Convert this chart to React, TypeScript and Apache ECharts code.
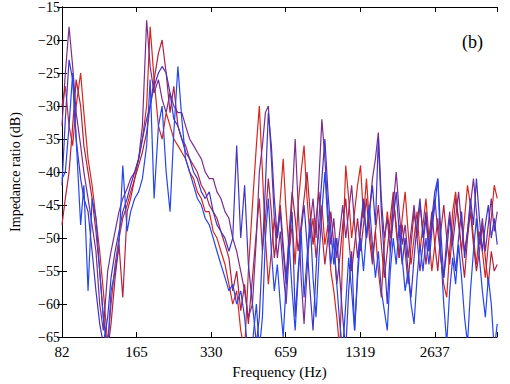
import React, { useEffect, useRef } from "react";
import * as echarts from "echarts";

// Frequency grid (Hz)
const FREQ_HZ: number[] = [
  82.4, 85, 88, 91, 94, 98, 101, 105, 109, 113, 117, 121, 126, 130, 135, 140, 145, 151, 156, 162,
  168, 174, 181, 187, 194, 202, 209, 217, 225, 233, 242, 251, 260, 270, 280, 290, 301, 312, 324, 336,
  348, 361, 375, 389, 403, 418, 434, 450, 466, 484, 502,
  516, 531, 546, 561, 577, 593, 610, 627, 644, 662, 681, 700, 720, 740, 761, 782, 804, 827, 850, 874,
  898, 923, 949, 976, 1003, 1031, 1060, 1090, 1120, 1152, 1184, 1217, 1251, 1286, 1322, 1359, 1397, 1436, 1477, 1518,
  1560, 1604, 1649, 1695, 1743, 1792, 1842, 1893, 1946, 2001, 2057, 2114, 2174, 2235, 2297, 2362, 2428, 2496, 2565, 2637,
  2711, 2787, 2865, 2945, 3028, 3112, 3199, 3289, 3381, 3476, 3573, 3673, 3776, 3882, 3991, 4102, 4217, 4335, 4457, 4581,
  4710,
];

const TICK_LABELS = ["82", "165", "330", "659", "1319", "2637"];
const Y_MIN = -65;
const Y_MAX = -15;

const RED: number[] = [
  -30, -27, -33, -36, -30, -25, -31, -38, -42, -47, -52, -58, -66, -60, -54, -50, -47, -45, -43, -41,
  -38, -35, -30, -18, -26, -33, -35, -31, -33, -35, -36, -37, -38, -40, -41, -43, -44, -46, -46, -49,
  -50, -52, -54, -57, -60, -58, -64, -67, -55, -45, -36,
  -30, -40, -50, -57, -52, -47, -50, -44, -38, -46, -52, -48, -54, -45, -40, -36, -44, -50, -47, -53,
  -49, -45, -51, -48, -55, -58, -62, -67, -52, -39, -44, -50, -46, -42, -39, -47, -41, -48, -53, -49,
  -55, -59, -51, -46, -50, -44, -48, -53, -47, -43, -49, -54, -50, -46, -52, -48, -44, -50, -55, -51,
  -47, -53, -57, -59, -52, -46, -43, -48, -52, -47, -42, -45, -50, -54, -49, -52, -56, -51, -47, -42,
  -44,
];

const CRIMSON: number[] = [
  -48, -44, -40, -33, -26, -30, -36, -40, -44, -49, -55, -62, -67, -63, -56, -51, -59, -46, -44, -41,
  -39, -37, -34, -30, -26, -22, -20, -25, -31, -27, -33, -35, -36, -38, -39, -40, -42, -43, -45, -46,
  -47, -49, -51, -53, -58, -55, -61, -57, -63, -56, -49,
  -44, -52, -47, -41, -46, -53, -49, -45, -51, -56, -49, -43, -47, -52, -48, -44, -40, -46, -51, -47,
  -43, -49, -54, -50, -46, -51, -57, -53, -48, -44, -50, -55, -51, -47, -52, -48, -44, -50, -54, -49,
  -45, -51, -56, -52, -47, -43, -49, -53, -48, -52, -57, -51, -46, -50, -45, -49, -54, -50, -46, -51,
  -55, -49, -45, -50, -54, -49, -44, -47, -52, -56, -50, -46, -51, -55, -52, -48, -53, -57, -52, -55,
  -54,
];

const PURPLE: number[] = [
  -33, -25, -18, -24, -31, -36, -40, -44, -48, -52, -60, -64, -55, -52, -49, -46, -44, -42.5, -41, -40,
  -38, -33, -17, -24, -28, -26, -29, -31, -28, -30, -31, -31, -33, -35, -36, -37, -38, -40, -41, -41,
  -43, -44, -46, -47, -50, -52, -55, -58, -62, -60, -50,
  -40, -36, -31, -30, -38, -47, -53, -49, -55, -60, -52, -44, -35, -45, -56, -63, -55, -48, -44, -50,
  -41, -32, -38, -46, -51, -47, -53, -49, -45, -50, -46, -42, -48, -53, -49, -45, -50, -46, -41, -38,
  -34, -44, -50, -47, -52, -45, -40, -46, -51, -48, -53, -49, -45, -50, -55, -51, -47, -52, -48, -44,
  -49, -53, -56, -50, -46, -51, -47, -43, -48, -52, -49, -45, -41, -46, -51, -47, -52, -48, -44, -49,
  -46,
];

const VIOLET: number[] = [
  -42, -32, -23, -26, -35, -41, -44, -46, -52, -58, -63, -66, -62, -56, -52, -49, -46, -44, -42, -40,
  -38, -35, -32, -30, -27, -25, -24, -25, -28, -32, -33, -35, -37, -38, -40, -41, -43, -44, -43, -46,
  -48, -49, -50, -52, -50, -36, -50, -42, -54, -60, -66,
  -62, -52, -42, -31, -36, -44, -50, -46, -52, -57, -50, -46, -62, -55, -49, -45, -51, -58, -64, -55,
  -47, -41, -35, -43, -49, -54, -50, -56, -62, -67, -58, -52, -64, -55, -48, -44, -50, -46, -42, -48,
  -35, -46, -53, -60, -52, -47, -43, -49, -54, -50, -55, -59, -53, -48, -44, -50, -46, -52, -47, -43,
  -41, -49, -56, -52, -47, -51, -55, -50, -46, -53, -49, -44, -48, -41, -47, -52, -48, -45, -50, -47,
  -51,
];

const BLUE: number[] = [
  -41, -40, -33, -25, -35, -48, -42, -58, -44, -47, -55, -62, -67, -58, -55, -51, -39, -49, -46, -44,
  -43, -41, -36, -26, -44, -33, -30, -40, -46, -34, -24, -32, -38, -40, -42, -44, -45, -47, -48, -50,
  -52, -54, -56, -58, -57, -60, -58, -62, -68, -66, -60,
  -67, -62, -50, -44, -52, -58, -54, -60, -65, -57, -51, -58, -64, -56, -49, -59, -53, -47, -56, -62,
  -53, -46, -40, -48, -54, -50, -57, -63, -67, -60, -53, -58, -64, -56, -50, -55, -49, -45, -51, -56,
  -52, -58, -61, -64, -55, -50, -54, -48, -53, -58, -55, -60, -63, -56, -51, -55, -50, -54, -49, -45,
  -41, -52, -60, -66, -58, -53, -57, -51, -56, -62, -66, -58, -52, -47, -53, -58, -62, -56, -60, -67,
  -63,
];

const SERIES_DEF: { name: string; values: number[]; color: string }[] = [
  { name: "R1", values: RED, color: "#d9261c" },
  { name: "R2", values: CRIMSON, color: "#b3213d" },
  { name: "P1", values: PURPLE, color: "#7b2d8e" },
  { name: "B1", values: VIOLET, color: "#3f35c8" },
  { name: "B2", values: BLUE, color: "#2446f0" },
];

const F0 = 82.41;
const X_MAX = Math.log2(4700 / F0);
const toOct = (f: number) => Math.log2(f / F0);

const FONT = "'Liberation Serif', 'Times New Roman', serif";

export default function App() {
  const ref = useRef<HTMLDivElement>(null);

  useEffect(() => {
    document.body.style.margin = "0";
    if (!ref.current) return;
    const chart = echarts.init(ref.current, undefined, { renderer: "svg" });

    const xLabel = (v: number) => {
      const r = Math.round(v);
      if (Math.abs(v - r) > 1e-6) return "";
      return TICK_LABELS[r] ?? "";
    };
    const yLabel = (v: number) => String(v).replace("-", "\u2212");

    const axisLine = { show: true, lineStyle: { color: "#000", width: 1 } };
    const tick = { show: true, inside: true, length: 5, lineStyle: { color: "#000" } };

    chart.setOption({
      animation: false,
      backgroundColor: "#fff",
      grid: { left: 62, right: 13, top: 7, bottom: 40, containLabel: false },
      xAxis: [
        {
          type: "value",
          position: "bottom",
          min: 0,
          max: X_MAX,
          interval: 1,
          axisLine,
          axisTick: tick,
          splitLine: { show: false },
          axisLabel: { formatter: xLabel, color: "#000", fontFamily: FONT, fontSize: 15, margin: 7 },
          name: "Frequency (Hz)",
          nameLocation: "middle",
          nameGap: 24,
          nameTextStyle: { color: "#000", fontFamily: FONT, fontSize: 15 },
        },
        {
          type: "value",
          position: "top",
          min: 0,
          max: X_MAX,
          interval: 1,
          axisLine,
          axisTick: tick,
          splitLine: { show: false },
          axisLabel: { show: false },
        },
      ],
      yAxis: [
        {
          type: "value",
          position: "left",
          min: Y_MIN,
          max: Y_MAX,
          interval: 5,
          axisLine,
          axisTick: tick,
          splitLine: { show: false },
          axisLabel: { formatter: yLabel, color: "#000", fontFamily: FONT, fontSize: 14, margin: 2 },
          name: "Impedance ratio (dB)",
          nameLocation: "middle",
          nameGap: 40,
          nameTextStyle: { color: "#000", fontFamily: FONT, fontSize: 14 },
        },
        {
          type: "value",
          position: "right",
          min: Y_MIN,
          max: Y_MAX,
          interval: 5,
          axisLine,
          axisTick: tick,
          splitLine: { show: false },
          axisLabel: { show: false },
        },
      ],
      graphic: [
        {
          type: "text",
          right: 27,
          top: 33,
          style: { text: "(b)", fill: "#000", font: `18px ${FONT}` },
        },
      ],
      series: SERIES_DEF.map((s) => ({
        name: s.name,
        type: "line",
        xAxisIndex: 0,
        yAxisIndex: 0,
        showSymbol: false,
        symbol: "none",
        clip: true,
        lineStyle: { color: s.color, width: 1.2 },
        data: FREQ_HZ.map((f, i) => [toOct(f), s.values[i]]),
      })),
    });

    return () => chart.dispose();
  }, []);

  return <div ref={ref} style={{ width: 510, height: 384 }} />;
}
